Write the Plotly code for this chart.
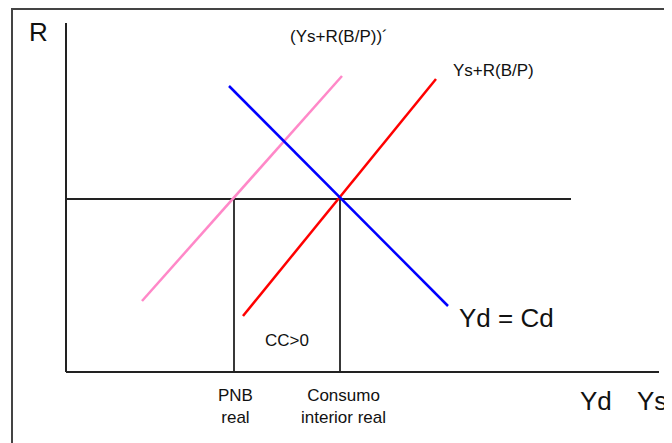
import plotly.graph_objects as go

# Conceptual values (output on x, interest rate R on y)
r_equilibrio = 17.3
pnb_real = 16.8
consumo_interior_real = 27.4
eje_x_max = 59.3
eje_y_max = 34.9
linea_r_max = 50.5

oferta_desplazada_x = [7.6, 27.6]      # (Ys+R(B/P))´
oferta_desplazada_y = [7.1, 29.6]
oferta_x = [17.7, 37.0]                # Ys+R(B/P)
oferta_y = [5.6, 29.3]
demanda_x = [16.3, 38.2]               # Yd = Cd
demanda_y = [28.6, 6.6]

fig = go.Figure()

def seg(x, y, color, width):
    fig.add_trace(go.Scatter(x=x, y=y, mode="lines",
                             line=dict(color=color, width=width),
                             hoverinfo="skip", showlegend=False))

# axes
seg([0, 0], [0, eje_y_max], "#222222", 2)
seg([0, eje_x_max], [0, 0], "#222222", 2)
# equilibrium R line and vertical guides
seg([0, linea_r_max], [r_equilibrio, r_equilibrio], "#222222", 1.8)
seg([pnb_real, pnb_real], [0, r_equilibrio], "#222222", 1.8)
seg([consumo_interior_real, consumo_interior_real], [0, r_equilibrio], "#222222", 1.8)
# curves
seg(oferta_desplazada_x, oferta_desplazada_y, "#FF88C8", 2.5)
seg(oferta_x, oferta_y, "#FF0000", 2.5)
seg(demanda_x, demanda_y, "#0000FF", 2.5)

font = "Liberation Sans, Arial, sans-serif"
def txt(x, y, s, size):
    fig.add_annotation(x=x, y=y, text=s, showarrow=False,
                       font=dict(family=font, size=size, color="#111111"),
                       xanchor="center", yanchor="middle")

txt(-2.8, 34.0, "R", 26)
txt(27.3, 33.6, "(Ys+R(B/P))´", 17)
txt(42.7, 30.2, "Ys+R(B/P)", 17)
txt(44.0, 5.4, "Yd = Cd", 26)
txt(22.1, 3.2, "CC>0", 17)
txt(16.9, -3.4, "PNB<br>real", 17)
txt(27.7, -3.4, "Consumo<br>interior real", 17)
txt(53.0, -2.9, "Yd", 26)
txt(58.6, -2.9, "Ys", 26)

# outer frame
fig.add_shape(type="rect", xref="paper", yref="paper",
              x0=4/664, y0=-0.05, x1=1.05, y1=1-1/435,
              line=dict(color="#444444", width=2), fillcolor="rgba(0,0,0,0)")

# figure sits at an 8px page margin inside the 672x443 window
fig.update_layout(
    width=664, height=435,
    margin=dict(l=0, r=0, t=0, b=0),
    paper_bgcolor="white", plot_bgcolor="white",
    xaxis=dict(range=[-5.8, 60.6], visible=False, fixedrange=True),
    yaxis=dict(range=[-7.1, 36.4], visible=False, fixedrange=True),
    showlegend=False,
)

fig.write_html("out.html")
